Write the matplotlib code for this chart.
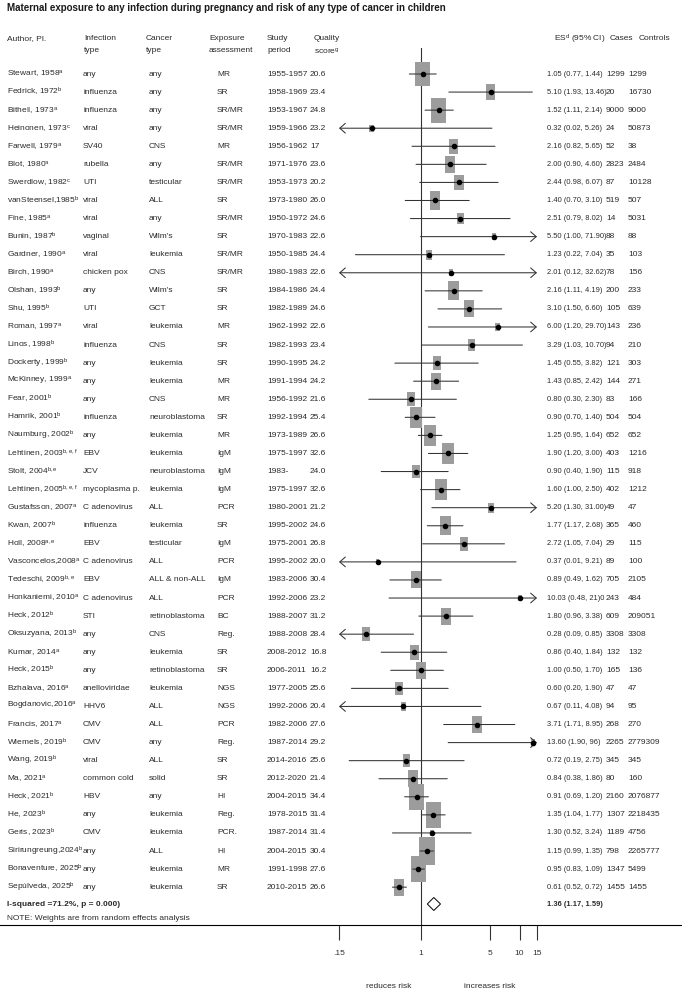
import matplotlib
matplotlib.use("Agg")
import numpy as np
import matplotlib.pyplot as plt
from matplotlib.patches import Rectangle, Polygon
from matplotlib.lines import Line2D
import matplotlib.transforms as mtransforms

plt.rcParams['font.family'] = ['Liberation Sans', 'DejaVu Sans']
plt.rcParams['mathtext.fontset'] = 'custom'
plt.rcParams['mathtext.rm'] = 'Liberation Sans'
plt.rcParams['mathtext.it'] = 'Liberation Sans:italic'
plt.rcParams['mathtext.bf'] = 'Liberation Sans:bold'

# ---- data ----
authors = ["Stewart, 1958", "Fedrick, 1972", "Bithell, 1973", "Heinonen, 1973", "Farwell, 1979",
           "Blot, 1980", "Swerdlow, 1982", "vanSteensel,1985", "Fine, 1985", "Bunin, 1987",
           "Gardner, 1990", "Birch, 1990", "Olshan, 1993", "Shu, 1995", "Roman, 1997",
           "Linos, 1998", "Dockerty, 1999", "McKinney, 1999", "Fear, 2001", "Hamrik, 2001",
           "Naumburg, 2002", "Lehtinen, 2003", "Stolt, 2004", "Lehtinen, 2005", "Gustafsson, 2007",
           "Kwan, 2007", "Holl, 2008", "Vasconcelos,2008", "Tedeschi, 2009", "Honkaniemi, 2010",
           "Heck, 2012", "Oksuzyana, 2013", "Kumar, 2014", "Heck, 2015", "Bzhalava, 2016",
           "Bogdanovic,2016", "Francis, 2017", "Wiemels, 2019", "Wang, 2019", "Ma, 2021",
           "Heck, 2021", "He, 2023", "Geris, 2023", "Sirirungreung,2024", "Bonaventure, 2025",
           "Sepúlveda, 2025"]
footnotes = ["a", "b", "a", "c", "a", "a", "c", "b", "a", "b",
             "a", "a", "b", "b", "a", "b", "b", "a", "b", "b",
             "b", "b,e,f", "b,e", "b,e,f", "a", "b", "a,e", "a", "b,e", "a",
             "b", "b", "a", "b", "a", "a", "a", "b", "b", "a",
             "b", "b", "b", "b", "b", "b"]
infection = ["any", "influenza", "influenza", "viral", "SV40", "rubella", "UTI", "viral", "viral", "vaginal",
             "viral", "chicken pox", "any", "UTI", "viral", "influenza", "any", "any", "any", "influenza",
             "any", "EBV", "JCV", "mycoplasma p.", "C adenovirus", "influenza", "EBV", "C adenovirus", "EBV",
             "C adenovirus", "STI", "any", "any", "any", "anelloviridae", "HHV6", "CMV", "CMV", "viral",
             "common cold", "HBV", "any", "CMV", "any", "any", "any"]
cancer = ["any", "any", "any", "any", "CNS", "any", "testicular", "ALL", "any", "Wilm's",
          "leukemia", "CNS", "Wilm's", "GCT", "leukemia", "CNS", "leukemia", "leukemia", "CNS", "neuroblastoma",
          "leukemia", "leukemia", "neuroblastoma", "leukemia", "ALL", "leukemia", "testicular", "ALL",
          "ALL & non-ALL", "ALL", "retinoblastoma", "CNS", "leukemia", "retinoblastoma", "leukemia", "ALL",
          "ALL", "any", "ALL", "solid", "any", "leukemia", "leukemia", "ALL", "leukemia", "leukemia"]
exposure = ["MR", "SR", "SR/MR", "SR/MR", "MR", "SR/MR", "SR/MR", "SR", "SR/MR", "SR",
            "SR/MR", "SR/MR", "SR", "SR", "MR", "SR", "SR", "MR", "MR", "SR",
            "MR", "IgM", "IgM", "IgM", "PCR", "SR", "IgM", "PCR", "IgM", "PCR",
            "BC", "Reg.", "SR", "SR", "NGS", "NGS", "PCR", "Reg.", "SR", "SR",
            "HI", "Reg.", "PCR.", "HI", "MR", "SR"]
period = ["1955-1957", "1958-1969", "1953-1967", "1959-1966", "1956-1962", "1971-1976", "1953-1973",
          "1973-1980", "1950-1972", "1970-1983", "1950-1985", "1980-1983", "1984-1986", "1982-1989",
          "1962-1992", "1982-1993", "1990-1995", "1991-1994", "1956-1992", "1992-1994", "1973-1989",
          "1975-1997", "1983-", "1975-1997", "1980-2001", "1995-2002", "1975-2001", "1995-2002",
          "1983-2006", "1992-2006", "1988-2007", "1988-2008", "2008-2012", "2006-2011", "1977-2005",
          "1992-2006", "1982-2006", "1987-2014", "2014-2016", "2012-2020", "2004-2015", "1978-2015",
          "1987-2014", "2004-2015", "1991-1998", "2010-2015"]
quality = ["20.6", "23.4", "24.8", "23.2", "17", "23.6", "20.2", "26.0", "24.6", "22.6",
           "24.4", "22.6", "24.4", "24.6", "22.6", "23.4", "24.2", "24.2", "21.6", "25.4",
           "26.6", "32.6", "24.0", "32.6", "21.2", "24.6", "26.8", "20.0", "30.4", "23.2",
           "31.2", "28.4", "16.8", "16.2", "25.6", "20.4", "27.6", "29.2", "25.6", "21.4",
           "34.4", "31.4", "31.4", "30.4", "27.6", "26.6"]
es = [1.05, 5.10, 1.52, 0.32, 2.16, 2.00, 2.44, 1.40, 2.51, 5.50,
      1.23, 2.01, 2.16, 3.10, 6.00, 3.29, 1.45, 1.43, 0.80, 0.90,
      1.25, 1.90, 0.90, 1.60, 5.20, 1.77, 2.72, 0.37, 0.89, 10.03,
      1.80, 0.28, 0.86, 1.00, 0.60, 0.67, 3.71, 13.60, 0.72, 0.84,
      0.91, 1.35, 1.30, 1.15, 0.95, 0.61]
lo = [0.77, 1.93, 1.11, 0.02, 0.82, 0.90, 0.98, 0.70, 0.79, 1.00,
      0.22, 0.12, 1.11, 1.50, 1.20, 1.03, 0.55, 0.85, 0.30, 0.70,
      0.95, 1.20, 0.40, 1.00, 1.30, 1.17, 1.05, 0.01, 0.49, 0.48,
      0.96, 0.09, 0.40, 0.50, 0.20, 0.11, 1.71, 1.90, 0.19, 0.38,
      0.69, 1.04, 0.52, 0.99, 0.83, 0.52]
hi = [1.44, 13.46, 2.14, 5.26, 5.65, 4.60, 6.07, 3.10, 8.02, 71.90,
      7.04, 32.62, 4.19, 6.60, 29.70, 10.70, 3.82, 2.42, 2.30, 1.40,
      1.64, 3.00, 1.90, 2.50, 31.00, 2.68, 7.04, 9.21, 1.62, 21.0,
      3.38, 0.85, 1.84, 1.70, 1.90, 4.08, 8.95, 96.0, 2.75, 1.86,
      1.20, 1.77, 3.24, 1.35, 1.09, 0.72]
es_text = ["1.05 (0.77, 1.44)", "5.10 (1.93, 13.46)", "1.52 (1.11, 2.14)", "0.32 (0.02, 5.26)",
           "2.16 (0.82, 5.65)", "2.00 (0.90, 4.60)", "2.44 (0.98, 6.07)", "1.40 (0.70, 3.10)",
           "2.51 (0.79, 8.02)", "5.50 (1.00, 71.90)", "1.23 (0.22, 7.04)", "2.01 (0.12, 32.62)",
           "2.16 (1.11, 4.19)", "3.10 (1.50, 6.60)", "6.00 (1.20, 29.70)", "3.29 (1.03, 10.70)",
           "1.45 (0.55, 3.82)", "1.43 (0.85, 2.42)", "0.80 (0.30, 2.30)", "0.90 (0.70, 1.40)",
           "1.25 (0.95, 1.64)", "1.90 (1.20, 3.00)", "0.90 (0.40, 1.90)", "1.60 (1.00, 2.50)",
           "5.20 (1.30, 31.00)", "1.77 (1.17, 2.68)", "2.72 (1.05, 7.04)", "0.37 (0.01, 9.21)",
           "0.89 (0.49, 1.62)", "10.03 (0.48, 21)0", "1.80 (0.96, 3.38)", "0.28 (0.09, 0.85)",
           "0.86 (0.40, 1.84)", "1.00 (0.50, 1.70)", "0.60 (0.20, 1.90)", "0.67 (0.11, 4.08)",
           "3.71 (1.71, 8.95)", "13.60 (1.90, 96)", "0.72 (0.19, 2.75)", "0.84 (0.38, 1.86)",
           "0.91 (0.69, 1.20)", "1.35 (1.04, 1.77)", "1.30 (0.52, 3.24)", "1.15 (0.99, 1.35)",
           "0.95 (0.83, 1.09)", "0.61 (0.52, 0.72)"]
cases = ["1299", "20", "9000", "24", "52", "2823", "87", "519", "14", "88",
         "35", "78", "200", "105", "143", "94", "121", "144", "83", "504",
         "652", "403", "115", "402", "49", "365", "29", "89", "705", "243",
         "609", "3308", "132", "165", "47", "94", "268", "2265", "345", "80",
         "2160", "1307", "1189", "798", "1347", "1455"]
controls = ["1299", "16730", "9000", "50873", "38", "2484", "10128", "507", "5031", "88",
            "103", "156", "233", "639", "236", "210", "303", "271", "166", "504",
            "652", "1216", "918", "1212", "47", "460", "115", "100", "2105", "484",
            "209051", "3308", "132", "136", "47", "95", "270", "2779309", "345", "160",
            "2076877", "2218435", "4756", "2265777", "5499", "1455"]
# random-effects weights (%)
weights = [4.95, 1.98, 4.95, 0.43, 1.73, 2.31, 1.98, 2.64, 1.12, 0.43,
           0.83, 0.36, 2.81, 2.31, 0.58, 1.12, 1.49, 2.31, 1.49, 3.30,
           3.30, 3.30, 1.49, 3.30, 0.83, 2.81, 1.49, 0.21, 2.31, 0.36,
           2.31, 1.49, 1.82, 2.31, 1.49, 0.58, 2.31, 0.36, 1.32, 2.31,
           5.61, 5.45, 0.36, 5.94, 5.61, 2.31]
pooled_es, pooled_lo, pooled_hi = 1.36, 1.17, 1.59
pooled_text = "1.36 (1.17, 1.59)"
het_text = "I-squared =71.2%, p = 0.000)"
note_text = "NOTE: Weights are from random effects analysis"
xticks = [0.15, 1, 5, 10, 15]
xticklabels = [".15", "1", "5", "10", "15"]

# ---- layout (pixels of a 682x991 canvas) ----
W, H = 682, 991
def fx(px):
    return px / W

row0, dy = 74.0, 18.07
ax_left, ax_right, ax_top, ax_bot = 339, 537, 48, 925
xmin, xmax = 0.15, 15

fig = plt.figure(figsize=(W / 100, H / 100), dpi=100)
ax = fig.add_axes([fx(ax_left), 1 - ax_bot / H, (ax_right - ax_left) / W, (ax_bot - ax_top) / H])
ax.set_xscale('log')
ax.set_xlim(xmin, xmax)
ax.set_ylim((ax_bot - row0) / dy, (ax_top - row0) / dy)
ax.patch.set_alpha(0)
for s in ax.spines.values():
    s.set_visible(False)
ax.set_yticks([])
ax.set_xticks(xticks)
ax.set_xticklabels(xticklabels)
ax.minorticks_off()
ax.tick_params(axis='x', direction='out', length=11, width=0.8, pad=7,
               labelsize=6.0, colors='#333333')

txt = '#2b2b2b'
fs = 6.0      # text columns
fs_es = 5.4   # estimate column
ppl = (ax_right - ax_left) / np.log(xmax / xmin)  # pixels per ln-unit

ax.axvline(1, color='#333333', lw=0.8, zorder=1)

for i in range(len(authors)):
    side = 6.6 * np.sqrt(weights[i])
    hw = side / 2 / ppl
    hh = side * 1.7 / 2 / dy
    ax.add_patch(Rectangle((es[i] * np.exp(-hw), i - hh), es[i] * (np.exp(hw) - np.exp(-hw)), 2 * hh,
                           facecolor='#9c9c9c', edgecolor='none', zorder=2))
    a = max(lo[i], xmin)
    b = min(hi[i], xmax)
    left_cut = lo[i] < xmin
    right_cut = hi[i] > xmax
    if left_cut and right_cut:
        style = '<->'
    elif right_cut:
        style = '->'
    elif left_cut:
        style = '<-'
    else:
        style = '-'
    ax.annotate("", xy=(b, i), xytext=(a, i), annotation_clip=False,
                arrowprops=dict(arrowstyle=style + ",head_length=0.4,head_width=0.35" if style != '-' else '-',
                                lw=0.75, color='#333333', shrinkA=0, shrinkB=0, mutation_scale=10),
                zorder=3)
    ax.plot(es[i], i, 'o', ms=3.0, color='black', zorder=4)

prow = (904 - row0) / dy
ph = 0.36
ax.add_patch(Polygon([(pooled_lo, prow), (pooled_es, prow - ph), (pooled_hi, prow), (pooled_es, prow + ph)],
                     closed=True, facecolor='white', edgecolor='black', lw=0.7, zorder=3))

# full-width axis line
fig.add_artist(Line2D([0, 1], [1 - ax_bot / H, 1 - ax_bot / H], color='black', lw=0.8))

trans = mtransforms.blended_transform_factory(fig.transFigure, ax.transData)
x_auth, x_inf, x_can, x_exp, x_per, x_qual = 7, 83, 149, 217, 267, 310
x_es, x_cas, x_con = 547, 606, 628
for i in range(len(authors)):
    ax.text(fx(x_auth), i, authors[i] + r"$^{\rm " + footnotes[i] + "}$", transform=trans,
            fontsize=fs, color=txt, va='center', ha='left')
    for x, col in [(x_inf, infection), (x_can, cancer), (x_exp, exposure), (x_per, period),
                   (x_qual, quality), (x_cas, cases), (x_con, controls)]:
        ax.text(fx(x), i, col[i], transform=trans, fontsize=fs, color=txt, va='center', ha='left')
    ax.text(fx(x_es), i, es_text[i], transform=trans, fontsize=fs_es, color=txt, va='center', ha='left')

ax.text(fx(x_auth), prow, het_text, transform=trans, fontsize=fs, color=txt, va='center',
        ha='left', fontweight='bold')
ax.text(fx(x_es), prow, pooled_text, transform=trans, fontsize=fs_es, color=txt, va='center',
        ha='left', fontweight='bold')
ax.text(fx(x_auth), (919 - row0) / dy, note_text, transform=trans, fontsize=fs, color=txt,
        va='center', ha='left')

# title and headers
fig.text(fx(7), 1 - 8 / H, "Maternal exposure to any infection during pregnancy and risk of any type of cancer in children",
         fontsize=7.0, fontweight='bold', color='#1a1a1a', va='center', ha='left')
headers = [(x_auth, "Author, Pl.", ""), (84, "Infection", "type"), (146, "Cancer", "type"),
           (209, "Exposure", "assessment"), (x_per, "Study", "period"),
           (314, "Quality", r"score$^{\rm g}$"), (554, r"ES$^{\rm d}$ (95% CI)", ""),
           (610, "Cases", ""), (639, "Controls", "")]
for x, l1, l2 in headers:
    fig.text(fx(x), 1 - 39 / H, l1, fontsize=fs, color=txt, va='center', ha='left')
    if l2:
        fig.text(fx(x), 1 - 51 / H, l2, fontsize=fs, color=txt, va='center', ha='left')

fig.text(fx(389), 1 - 986 / H, "reduces risk", fontsize=fs, color=txt, va='center', ha='center')
fig.text(fx(490), 1 - 986 / H, "increases risk", fontsize=fs, color=txt, va='center', ha='center')

fig.savefig("out.png", dpi=100)
